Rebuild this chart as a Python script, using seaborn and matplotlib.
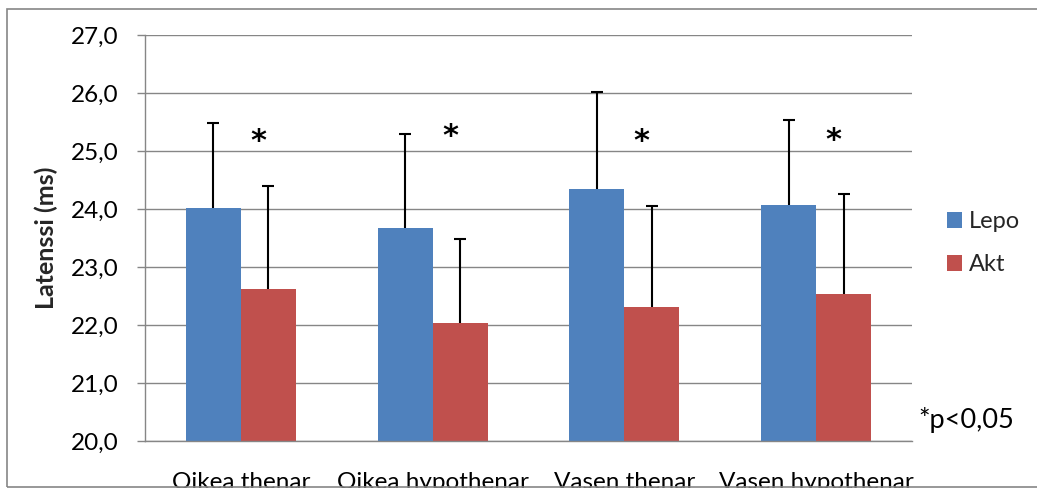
import matplotlib
matplotlib.use("Agg")
import matplotlib.pyplot as plt
import matplotlib.patches as mpatches
import matplotlib.transforms as mtransforms
import seaborn as sns
import pandas as pd
import numpy as np

categories = ["Oikea thenar", "Oikea hypothenar", "Vasen thenar", "Vasen hypothenar"]
series = ["Lepo", "Akt"]
lepo_mean = [24.02, 23.67, 24.34, 24.07]
lepo_sd = [1.46, 1.62, 1.68, 1.46]
akt_mean = [22.62, 22.03, 22.31, 22.54]
akt_sd = [1.78, 1.46, 1.75, 1.72]
star_y = [25.31, 25.40, 25.31, 25.33]
y_ticks = [20, 21, 22, 23, 24, 25, 26, 27]
y_tick_labels = ["20,0", "21,0", "22,0", "23,0", "24,0", "25,0", "26,0", "27,0"]
colors = ["#4F81BD", "#C0504D"]

df = pd.DataFrame({
    "cat": categories * 2,
    "series": [series[0]] * 4 + [series[1]] * 4,
    "mean": lepo_mean + akt_mean,
    "sd": lepo_sd + akt_sd,
})

sns.set_theme(style="white")
plt.rcParams["font.family"] = ["Lato", "DejaVu Sans"]

fig = plt.figure(figsize=(10.37, 4.88), dpi=100)
ax = fig.add_axes([145 / 1037, 1 - 441 / 488, (912 - 145) / 1037, (441 - 35) / 488])

sns.barplot(data=df, x="cat", y="mean", hue="series", order=categories,
            hue_order=series, palette=colors, width=0.574, gap=0,
            errorbar=None, saturation=1, ax=ax, zorder=2,
            edgecolor="none", linewidth=0)

# error bars (upper only) at bar positions from the library
bars = [p for p in ax.patches if isinstance(p, mpatches.Rectangle) and p.get_width() > 0]
bars = bars[:8]
xs = [b.get_x() + b.get_width() / 2 for b in bars]
hs = [b.get_height() for b in bars]
errs = list(df["sd"])
eb = ax.errorbar(xs, hs, yerr=[np.zeros(len(errs)), errs], fmt="none",
                 ecolor="black", elinewidth=1.5, capsize=4.3, capthick=1.5, zorder=3)
eb[1][0].set_visible(False)  # hide lower caps

star_tr = mtransforms.offset_copy(ax.transData, fig=fig, y=-17, units="dots")
for i, yv in enumerate(star_y):
    ax.text(i + 0.09, yv, "*", ha="center", va="baseline", fontsize=22,
            family="DejaVu Sans", fontweight="bold", color="black", zorder=4,
            transform=star_tr)

ax.set_ylim(20, 27)
ax.set_xlim(-0.5, 3.5)
ax.set_yticks(y_ticks)
ax.set_yticklabels(y_tick_labels)
ax.yaxis.grid(True, color="#868686", linewidth=1.0)
ax.set_axisbelow(True)
for s in ["top", "right"]:
    ax.spines[s].set_visible(False)
for s in ["left", "bottom"]:
    ax.spines[s].set_color("#868686")
    ax.spines[s].set_linewidth(1.0)
ax.tick_params(axis="y", which="major", left=True, length=6, width=1,
               color="#868686", direction="out", pad=13, labelsize=17.5,
               labelcolor="black")
ax.tick_params(axis="x", bottom=False, pad=16, labelsize=17.5, labelcolor="black")
ax.set_xlabel("")
ax.set_ylabel("Latenssi (ms)", fontsize=18, fontweight="bold", labelpad=9.5)

leg = ax.legend(loc="upper left", bbox_to_anchor=(947 / 1037, 1 - 211 / 488),
                bbox_transform=fig.transFigure, frameon=False, borderpad=0,
                borderaxespad=0, fontsize=17, handlelength=0.64,
                handleheight=0.64, handletextpad=0.3, labelspacing=0.95)

fig.text(918 / 1037, 1 - 428 / 488, "*p<0,05", fontsize=19.5, ha="left",
         va="baseline", color="black")

border = mpatches.Rectangle((7 / 1037, 1 - 487 / 488), 1.2, (487 - 9) / 488,
                            transform=fig.transFigure, fill=False,
                            edgecolor="#868686", linewidth=1.2, clip_on=False)
fig.patches.append(border)

fig.savefig("out.png", dpi=100, facecolor="white")
